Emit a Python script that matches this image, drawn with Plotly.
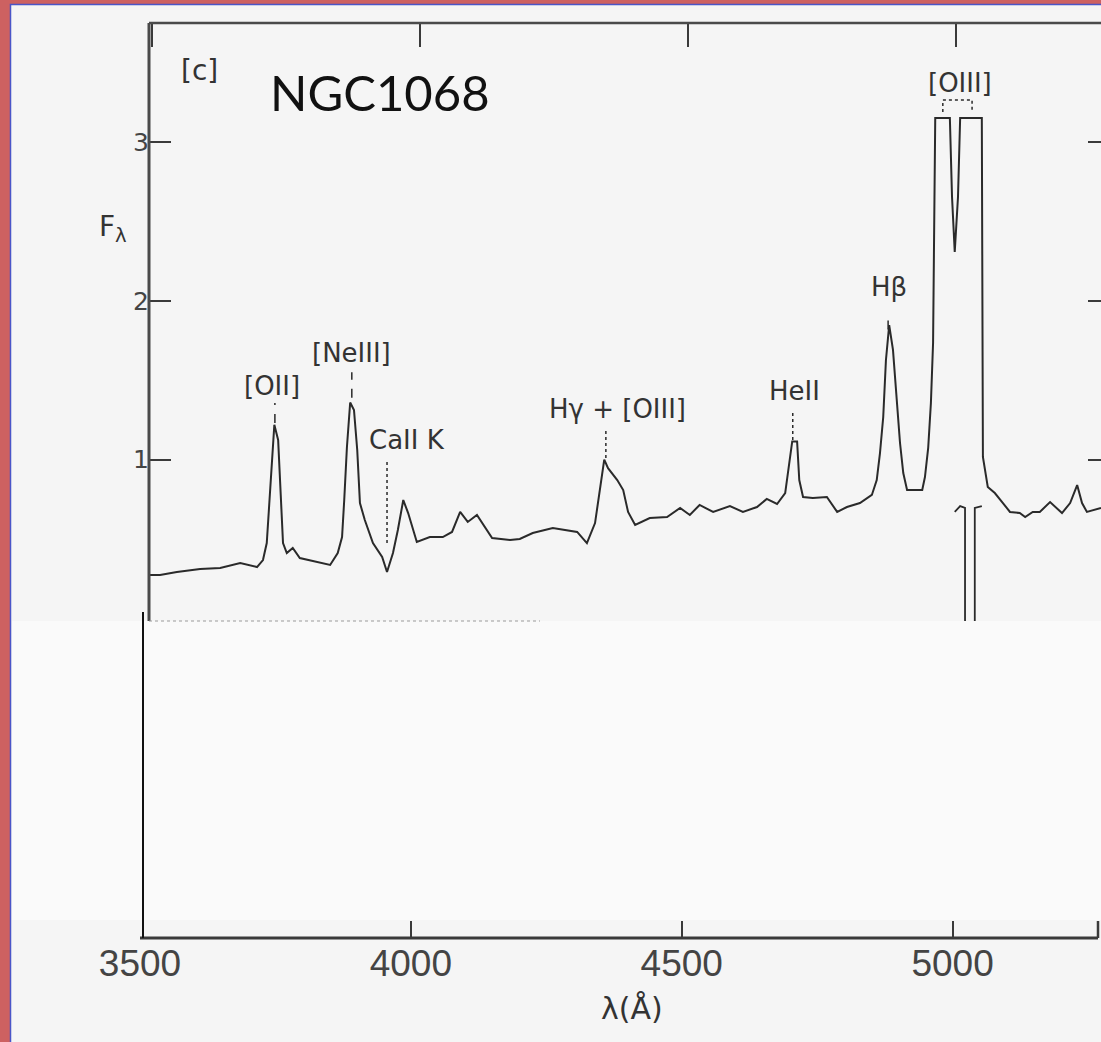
import plotly.graph_objects as go

# Optical spectrum of NGC 1068 (flux F_lambda vs wavelength in Angstrom)
wavelength = [3515, 3537, 3568, 3611, 3648, 3685, 3716, 3727, 3734, 3738, 3744, 3748,
              3755, 3760, 3764, 3771, 3782, 3795, 3827, 3851, 3865, 3873, 3877, 3882,
              3888, 3895, 3901, 3906, 3915, 3930, 3947, 3956, 3967, 3976, 3986, 3995,
              4011, 4035, 4059, 4076, 4091, 4105, 4122, 4150, 4183, 4201, 4225, 4262,
              4307, 4325, 4340, 4349, 4357, 4364, 4381, 4392, 4401, 4414, 4441, 4473,
              4497, 4515, 4533, 4558, 4589, 4613, 4639, 4657, 4676, 4691, 4696, 4704,
              4713, 4717, 4724, 4742, 4768, 4787, 4805, 4829, 4851, 4860, 4866, 4872,
              4877, 4883, 4890, 4897, 4903, 4909, 4916, 4944, 4949, 4955, 4960, 4964,
              4968, 4972, 4995, 4999, 5004, 5010, 5014, 5054, 5056, 5065, 5078, 5093,
              5106, 5124, 5134, 5148, 5161, 5180, 5202, 5217, 5230, 5239, 5248, 5274]
flux = [0.274, 0.274, 0.293, 0.312, 0.318, 0.349, 0.324, 0.368, 0.475, 0.702, 0.979, 1.22,
        1.124, 0.746, 0.475, 0.412, 0.444, 0.381, 0.356, 0.337, 0.412, 0.513, 0.746, 1.080,
        1.36, 1.313, 1.061, 0.727, 0.620, 0.475, 0.387, 0.293, 0.412, 0.557, 0.746, 0.664,
        0.482, 0.513, 0.513, 0.545, 0.671, 0.608, 0.652, 0.507, 0.494, 0.501, 0.538, 0.570,
        0.545, 0.475, 0.601, 0.809, 1.00, 0.947, 0.872, 0.809, 0.671, 0.589, 0.633, 0.639,
        0.696, 0.652, 0.715, 0.671, 0.708, 0.671, 0.702, 0.753, 0.721, 0.790, 0.916, 1.115,
        1.115, 0.872, 0.765, 0.759, 0.765, 0.671, 0.702, 0.727, 0.778, 0.872, 1.042, 1.269,
        1.628, 1.848, 1.691, 1.395, 1.105, 0.916, 0.809, 0.809, 0.891, 1.074, 1.357, 1.735,
        3.152, 3.152, 3.152, 2.654, 2.308, 2.654, 3.152, 3.152, 1.017, 0.828, 0.790, 0.727,
        0.671, 0.664, 0.639, 0.671, 0.671, 0.733, 0.664, 0.727, 0.840, 0.727, 0.671, 0.696]

# [O III] peaks of the second (lower) spectrum that rise above its panel
lower_wave = [5004, 5014, 5023, 5023, None, 5041, 5041, 5054]
lower_flux = [0.671, 0.708, 0.696, -0.83, None, -0.83, 0.696, 0.708]

# Emission / absorption line identifications: label, label position, leader line
line_labels = ["[OII]", "[NeIII]", "CaII K", "Hγ + [OIII]", "HeII", "Hβ", "[OIII]"]
label_wave = [3744, 3890, 3993, 4381, 4709, 4883, 5014]
label_flux = [1.464, 1.671, 1.124, 1.32, 1.43, 2.09, 3.37]
leader_wave = [3749, 3891, 3956, 4360, 4705, 4881]
leader_top = [1.357, 1.55, 0.998, 1.187, 1.30, 1.93]
leader_bottom = [1.231, 1.39, 0.475, 1.01, 1.124, 1.82]
leader_dash = ["dash", "dash", "dot", "dot", "dot", "dash"]

x_ticks = [3500, 4000, 4500, 5000]
y_ticks = [1, 2, 3]

X_RANGE = [3500, 5274]
X_TOP_RANGE = [3477.6, 5270.5]
Y_RANGE = [-2.012, 3.750]

W, H = 1101, 1042
ML, MR, MT, MB = 140, 0, 23, 104
PW, PH = W - ML - MR, H - MT - MB


def px(xp):
    return (xp - ML) / PW


def py(yp):
    return (H - MB - yp) / PH


INK = "#2a2a2a"
BG = "#f5f5f5"

fig = go.Figure()
fig.add_trace(go.Scatter(x=wavelength, y=flux, mode="lines",
                         line=dict(color=INK, width=2), showlegend=False,
                         hoverinfo="skip"))
fig.add_trace(go.Scatter(x=lower_wave, y=lower_flux, mode="lines",
                         line=dict(color=INK, width=1.8), showlegend=False,
                         connectgaps=False, hoverinfo="skip"))
# invisible trace to activate the top and right axes
fig.add_trace(go.Scatter(x=[4000], y=[1], xaxis="x2", yaxis="y2", mode="markers",
                         marker=dict(opacity=0), showlegend=False, hoverinfo="skip"))

shapes = []
# slide panel behind the figure
shapes.append(dict(type="rect", xref="paper", yref="paper",
                   x0=px(10.5), x1=px(1120), y0=py(1070), y1=py(4.5),
                   fillcolor=BG, line=dict(color="#4a55c8", width=1.5), layer="below"))
# frame lines
shapes.append(dict(type="line", xref="paper", yref="paper", x0=px(149), x1=px(149),
                   y0=1.0, y1=py(621), line=dict(color="#4a4a4a", width=3)))
shapes.append(dict(type="line", xref="paper", yref="paper", x0=px(149), x1=1.0,
                   y0=1.0, y1=1.0, line=dict(color="#4a4a4a", width=2.5)))
shapes.append(dict(type="line", xref="paper", yref="paper", x0=0, x1=px(1098),
                   y0=0, y1=0, line=dict(color="#3a3a3a", width=3)))
shapes.append(dict(type="line", xref="paper", yref="paper", x0=px(1098), x1=px(1098),
                   y0=0, y1=py(921), line=dict(color="#3a3a3a", width=2.5)))
# leader lines from labels to the lines
for lw, lt, lb, ld in zip(leader_wave, leader_top, leader_bottom, leader_dash):
    shapes.append(dict(type="line", xref="x", yref="y", x0=lw, x1=lw, y0=lb, y1=lt,
                       line=dict(color=INK, width=1.5, dash=ld)))
# bracket grouping the [O III] doublet
shapes.append(dict(type="path", xref="x", yref="y",
                   path="M 4982 3.19 L 4982 3.265 L 5036 3.265 L 5036 3.19",
                   line=dict(color=INK, width=1.5, dash="dot")))
# blank panel covering the lower spectrum
shapes.append(dict(type="rect", xref="paper", yref="paper",
                   x0=px(12), x1=1.02, y0=py(920), y1=py(621),
                   fillcolor="#fafafa", line=dict(width=0), layer="above"))
shapes.append(dict(type="line", xref="paper", yref="paper", x0=px(149), x1=px(540),
                   y0=py(621), y1=py(621), line=dict(color="#9a9a9a", width=1, dash="dot"),
                   layer="above"))
shapes.append(dict(type="line", xref="paper", yref="paper", x0=px(143), x1=px(143),
                   y0=py(612), y1=0, line=dict(color="#111111", width=2), layer="above"))

annotations = []
for txt, lx, ly in zip(line_labels, label_wave, label_flux):
    annotations.append(dict(x=lx, y=ly, xref="x", yref="y", text=txt, showarrow=False,
                            xanchor="center", yanchor="middle",
                            font=dict(family="DejaVu Sans", size=26, color="#333333")))
annotations.append(dict(x=3609, y=3.45, xref="x", yref="y", text="[c]", showarrow=False,
                        xanchor="center", yanchor="middle",
                        font=dict(family="DejaVu Sans", size=28, color="#333333")))
annotations.append(dict(x=3943, y=3.316, xref="x", yref="y", text="NGC1068",
                        showarrow=False, xanchor="center", yanchor="middle",
                        font=dict(family="Lato", size=49, color="#111111")))
annotations.append(dict(x=px(113), y=py(228), xref="paper", yref="paper",
                        text="F<sub>λ</sub>", showarrow=False,
                        xanchor="center", yanchor="middle",
                        font=dict(family="DejaVu Sans", size=28, color="#333333")))
annotations.append(dict(x=px(632), y=py(1008), xref="paper", yref="paper",
                        text="λ(Å)", showarrow=False,
                        xanchor="center", yanchor="middle",
                        font=dict(family="DejaVu Sans", size=30, color="#333333")))

fig.update_layout(
    width=W, height=H,
    margin=dict(l=ML, r=MR, t=MT, b=MB),
    paper_bgcolor="#cd6161",
    plot_bgcolor="rgba(0,0,0,0)",
    xaxis=dict(range=X_RANGE, tickvals=x_ticks, ticks="inside", ticklen=17, tickwidth=2,
               tickcolor="#3a3a3a", showline=False, showgrid=False, zeroline=False,
               tickfont=dict(family="Liberation Sans", size=37, color="#444444")),
    xaxis2=dict(range=X_TOP_RANGE, overlaying="x", side="top", anchor="y",
                tickvals=x_ticks, ticks="inside", ticklen=24, tickwidth=2,
                tickcolor="#3a3a3a", showticklabels=False, showline=False,
                showgrid=False, zeroline=False),
    yaxis=dict(range=Y_RANGE, tickvals=y_ticks, ticks="inside", ticklen=21, tickwidth=2,
               tickcolor="#3a3a3a", anchor="free", position=px(149), showline=False,
               showgrid=False, zeroline=False,
               tickfont=dict(family="DejaVu Sans", size=25, color="#444444")),
    yaxis2=dict(range=Y_RANGE, overlaying="y", side="right", anchor="x",
                tickvals=y_ticks, ticks="inside", ticklen=13, tickwidth=2,
                tickcolor="#3a3a3a", showticklabels=False, showline=False,
                showgrid=False, zeroline=False),
    shapes=shapes,
    annotations=annotations,
)

fig.write_html("out.html")
